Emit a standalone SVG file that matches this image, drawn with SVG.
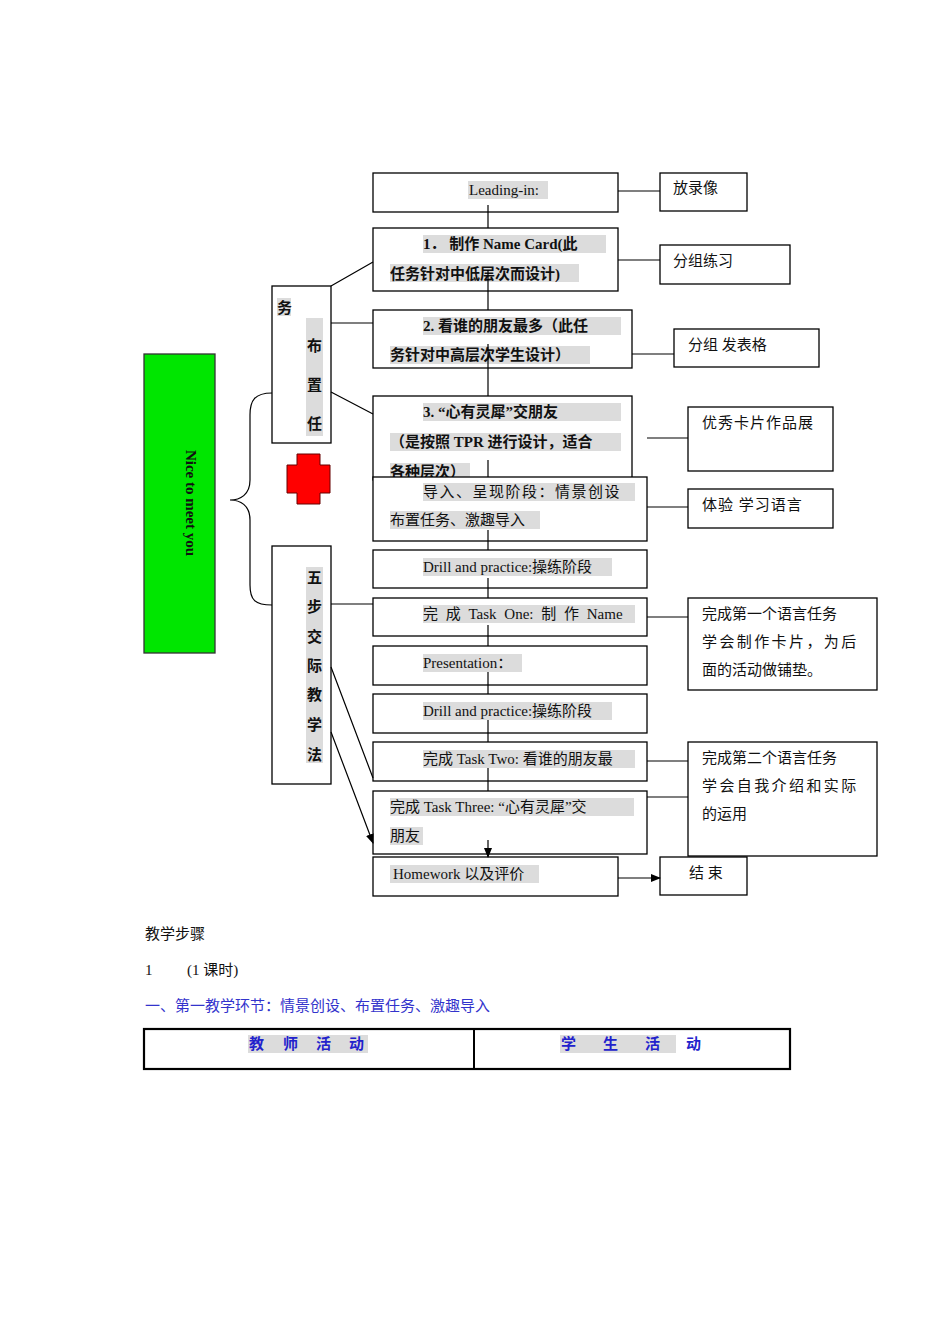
<svg xmlns="http://www.w3.org/2000/svg" width="950" height="1344" viewBox="0 0 950 1344">
<style>
.b{fill:#fff;stroke:#000;stroke-width:1.3}
.t{font-family:"Liberation Serif","Noto Sans CJK SC",serif;font-size:15px;fill:#111}
.bd{font-weight:bold}
.hl{fill:#dcdcdc}
.c{stroke:#000;stroke-width:1.2;fill:none}
</style>
<defs><marker id="a" markerWidth="10" markerHeight="8" refX="9" refY="4" orient="auto" markerUnits="userSpaceOnUse"><path d="M0,0L10,4L0,8z" fill="#000"/></marker></defs>
<rect width="950" height="1344" fill="#fff"/>
<g id="nice"><rect x="144" y="354" width="71" height="299" fill="#00e600" stroke="#333" stroke-width="1.3"/>
<text class="t bd" font-size="22" transform="translate(186,503) rotate(90)" text-anchor="middle">Nice to meet you</text></g>
<g id="brace"><path class="c" d="M272,393 C255,393 250,400 250,415 L250,480 C250,495 240,500 230,500 C240,500 250,505 250,520 L250,585 C250,600 255,605 272,605"/></g>
<g id="cross"><path d="M297,454H320V465H330V493H320V504H297V493H287V465H297Z" fill="#f00" stroke="#600" stroke-width="1"/></g>
<g id="buzhi"><rect class="b" x="272" y="286" width="59" height="157"/>
<rect class="hl" x="306" y="318" width="17" height="118"/><rect class="hl" x="277" y="298" width="14" height="18"/>
<text class="t bd"><tspan x="277" y="313">务</tspan><tspan x="307" y="351">布</tspan><tspan x="307" y="390">置</tspan><tspan x="307" y="429">任</tspan></text></g>
<g id="wubu"><rect class="b" x="272" y="546" width="59" height="238"/>
<rect class="hl" x="306" y="567" width="17" height="196"/>
<text class="t bd"><tspan x="307" y="583">五</tspan><tspan x="307" y="612">步</tspan><tspan x="307" y="642">交</tspan><tspan x="307" y="671">际</tspan><tspan x="307" y="700">教</tspan><tspan x="307" y="730">学</tspan><tspan x="307" y="760">法</tspan></text></g>
<g id="n0"><rect class="b" x="373" y="173" width="245" height="39"/><rect class="hl" x="468" y="181" width="80" height="18"/><text class="t" x="469" y="195">Leading-in:</text></g>
<g id="n1"><rect class="b" x="373" y="228" width="245" height="63"/><rect class="hl" x="423" y="235" width="183" height="18"/><rect class="hl" x="390" y="264" width="189" height="18"/><text class="t bd"><tspan x="423" y="249">1． 制作 Name Card(此</tspan><tspan x="390" y="279">任务针对中低层次而设计)</tspan></text></g>
<g id="n2"><rect class="b" x="373" y="310" width="259" height="58"/><rect class="hl" x="423" y="317" width="198" height="18"/><rect class="hl" x="390" y="346" width="200" height="18"/><text class="t bd"><tspan x="423" y="331">2. 看谁的朋友最多（此任</tspan><tspan x="390" y="360">务针对中高层次学生设计）</tspan></text></g>
<g id="n3"><rect class="b" x="373" y="396" width="259" height="84"/><rect class="hl" x="423" y="403" width="198" height="18"/><rect class="hl" x="390" y="433" width="231" height="18"/><rect class="hl" x="390" y="463" width="80" height="16"/><text class="t bd"><tspan x="423" y="417">3. “心有灵犀”交朋友</tspan><tspan x="390" y="447">（是按照 TPR 进行设计，适合</tspan><tspan x="390" y="477">各种层次）</tspan></text></g>
<g id="n4"><rect class="b" x="373" y="477" width="274" height="64"/><rect class="hl" x="423" y="483" width="212" height="18"/><rect class="hl" x="390" y="511" width="150" height="18"/><text class="t"><tspan x="423" y="497" letter-spacing="1.5">导入、呈现阶段：情景创设</tspan><tspan x="390" y="525">布置任务、激趣导入</tspan></text></g>
<g id="n5"><rect class="b" x="373" y="550" width="274" height="38"/><rect class="hl" x="423" y="558" width="189" height="18"/><text class="t" x="423" y="572">Drill and practice:操练阶段</text></g>
<g id="n6"><rect class="b" x="373" y="598" width="274" height="38"/><rect class="hl" x="423" y="605" width="212" height="18"/><text class="t" x="423" y="619" word-spacing="4">完 成 Task One:  制 作 Name</text></g>
<g id="n7"><rect class="b" x="373" y="646" width="274" height="39"/><rect class="hl" x="423" y="654" width="99" height="18"/><text class="t" x="423" y="668">Presentation：</text></g>
<g id="n8"><rect class="b" x="373" y="694" width="274" height="39"/><rect class="hl" x="423" y="702" width="189" height="18"/><text class="t" x="423" y="716">Drill and practice:操练阶段</text></g>
<g id="n9"><rect class="b" x="373" y="742" width="274" height="39"/><rect class="hl" x="423" y="750" width="212" height="18"/><text class="t" x="423" y="764">完成 Task Two: 看谁的朋友最</text></g>
<g id="n10"><rect class="b" x="373" y="791" width="274" height="63"/><rect class="hl" x="390" y="798" width="244" height="18"/><rect class="hl" x="390" y="827" width="33" height="18"/><text class="t"><tspan x="390" y="812">完成 Task Three: “心有灵犀”交</tspan><tspan x="390" y="841">朋友</tspan></text></g>
<g id="n11"><rect class="b" x="373" y="857" width="245" height="39"/><rect class="hl" x="390" y="865" width="149" height="18"/><text class="t" x="393" y="879">Homework 以及评价</text></g>
<g id="r0"><rect class="b" x="660" y="173" width="87" height="38"/><text class="t" x="673" y="193">放录像</text></g>
<g id="r1"><rect class="b" x="660" y="245" width="130" height="39"/><text class="t" x="673" y="266">分组练习</text></g>
<g id="r2"><rect class="b" x="674" y="329" width="145" height="38"/><text class="t" x="688" y="350">分组 发表格</text></g>
<g id="r3"><rect class="b" x="688" y="407" width="145" height="64"/><text class="t" x="702" y="428" letter-spacing="1">优秀卡片作品展</text></g>
<g id="r4"><rect class="b" x="688" y="489" width="145" height="39"/><text class="t" x="702" y="510" letter-spacing="1">体验 学习语言</text></g>
<g id="r5"><rect class="b" x="688" y="598" width="189" height="92"/><text class="t"><tspan x="702" y="619">完成第一个语言任务</tspan><tspan x="702" y="647" letter-spacing="2.4">学会制作卡片，为后</tspan><tspan x="702" y="675">面的活动做铺垫。</tspan></text></g>
<g id="r6"><rect class="b" x="688" y="742" width="189" height="114"/><text class="t"><tspan x="702" y="763">完成第二个语言任务</tspan><tspan x="702" y="791" letter-spacing="2.4">学会自我介绍和实际</tspan><tspan x="702" y="819">的运用</tspan></text></g>
<g id="r7"><rect class="b" x="660" y="857" width="87" height="38"/><text class="t" x="689" y="878">结 束</text></g>
<g id="connectors" class="c">
<path d="M618,191H660M618,260H660M632,354H674M647,438H688M647,507H688M647,617H688M647,761H688M647,797H688M618,878H660" marker-end="url(#a)"/>
<path d="M488,205V228M488,270V310M488,344V396M488,460V477M488,530V550M488,578V598M488,625V646M488,672V694M488,720V742M488,768V791M488,840V857" marker-end="url(#a)"/>
<path d="M331,286L373,262M331,323H373M331,392L373,414M331,604H373M331,667L373,778M331,732L373,843" marker-end="url(#a)"/>
</g>
<g id="bottom">
<text class="t" x="145" y="939">教学步骤</text>
<text class="t" x="145" y="975">1<tspan x="187">(1 课时)</tspan></text>
<text class="t" x="145" y="1011" fill="#3333cc" style="fill:#3333cc">一、第一教学环节：情景创设、布置任务、激趣导入</text>
<rect x="144" y="1029" width="646" height="40" fill="none" stroke="#000" stroke-width="2.2"/>
<line x1="474" y1="1029" x2="474" y2="1069" stroke="#000" stroke-width="2"/>
<rect class="hl" x="248" y="1035" width="120" height="18"/><rect class="hl" x="560" y="1035" width="116" height="18"/>
<text class="t bd" style="fill:#2222cc" x="249" y="1049" word-spacing="0"><tspan>教</tspan><tspan x="283">师</tspan><tspan x="316">活</tspan><tspan x="349">动</tspan></text>
<text class="t bd" style="fill:#2222cc" y="1049"><tspan x="561">学</tspan><tspan x="603">生</tspan><tspan x="645">活</tspan><tspan x="686">动</tspan></text>
</g>
</svg>
